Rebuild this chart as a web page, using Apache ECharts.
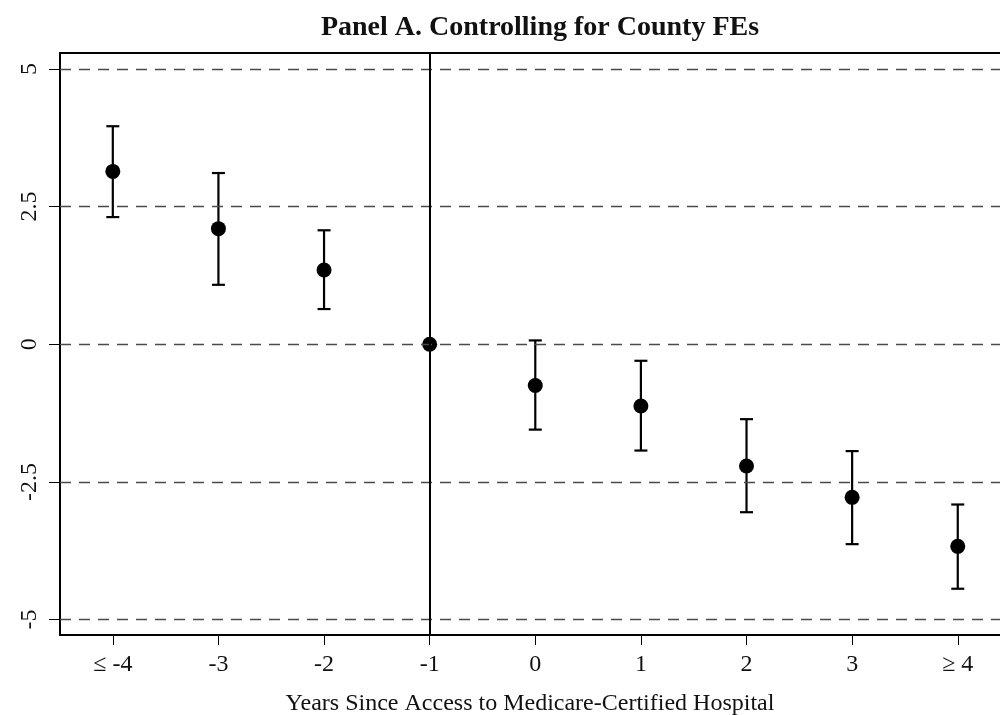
<!DOCTYPE html>
<html>
<head>
<meta charset="utf-8">
<script src="https://cdn.jsdelivr.net/npm/echarts@6/dist/echarts.min.js"></script>
<style>
  html, body { margin: 0; padding: 0; background: #fff; }
  #main { width: 1000px; height: 715px; }
</style>
</head>
<body>
<div id="main"></div>
<script>
// event-time categories
var categories = ['≤ -4', '-3', '-2', '-1', '0', '1', '2', '3', '≥ 4'];
// point estimates and 95% CI bounds
var estimates = [3.14, 2.10, 1.35, 0, -0.75, -1.12, -2.21, -2.78, -3.67];
var upper = [3.96, 3.11, 2.07, null, 0.07, -0.30, -1.36, -1.94, -2.91];
var lower = [2.31, 1.08, 0.64, null, -1.55, -1.93, -3.05, -3.63, -4.44];
var yTicks = [-5, -2.5, 0, 2.5, 5];
var refIndex = 3; // the omitted year (-1)

var font = 'Liberation Serif';
var chart = echarts.init(document.getElementById('main'));

var xIdx = categories.map(function (c, i) { return i; });
var points = estimates.map(function (v, i) { return [i, v]; });
var bars = [];
for (var i = 0; i < categories.length; i++) {
  if (upper[i] != null) bars.push([i, lower[i], upper[i]]);
}

var option = {
  animation: false,
  title: {
    text: 'Panel A. Controlling for County FEs',
    left: 535,
    top: 9,
    textAlign: 'center',
    textStyle: { fontFamily: font, fontWeight: 'bold', fontSize: 28, color: '#111' }
  },
  grid: { left: 60, right: 0, top: 53, bottom: 80, outerBoundsMode: 'none', containLabel: false },
  xAxis: [{
    type: 'value',
    min: -0.5,
    max: 8.4,
    axisLine: { show: true, onZero: false, lineStyle: { color: '#000', width: 2 } },
    axisTick: { show: true, customValues: xIdx, length: 10, lineStyle: { color: '#000', width: 1 } },
    axisLabel: {
      customValues: xIdx,
      margin: 18,
      formatter: function (v) { return categories[v]; },
      fontFamily: font, fontSize: 24, color: '#111'
    },
    splitLine: { show: false },
    name: 'Years Since Access to Medicare-Certified Hospital',
    nameLocation: 'middle',
    nameGap: 57,
    nameTextStyle: { fontFamily: font, fontSize: 24, color: '#111' }
  }, {
    type: 'value',
    position: 'top',
    min: -0.5,
    max: 8.4,
    axisLine: { show: true, onZero: false, lineStyle: { color: '#000', width: 2 } },
    axisTick: { show: false },
    axisLabel: { show: false },
    splitLine: { show: false }
  }],
  yAxis: {
    type: 'value',
    min: -5.28,
    max: 5.29,
    axisLine: { show: true, onZero: false, lineStyle: { color: '#000', width: 2 } },
    axisTick: { show: true, customValues: yTicks, length: 11, lineStyle: { color: '#000', width: 1 } },
    axisLabel: {
      customValues: yTicks,
      rotate: 90,
      margin: 18,
      fontFamily: font, fontSize: 24, color: '#111'
    },
    splitLine: { show: false }
  },
  series: [{
    type: 'custom',
    renderItem: function (params, api) {
      var x = api.value(0);
      var lo = api.coord([x, api.value(1)]);
      var hi = api.coord([x, api.value(2)]);
      var w = 6.5;
      var st = { stroke: '#000', lineWidth: 2.2 };
      return {
        type: 'group',
        children: [
          { type: 'line', shape: { x1: lo[0], y1: lo[1], x2: hi[0], y2: hi[1] }, style: st },
          { type: 'line', shape: { x1: lo[0] - w, y1: lo[1], x2: lo[0] + w, y2: lo[1] }, style: st },
          { type: 'line', shape: { x1: hi[0] - w, y1: hi[1], x2: hi[0] + w, y2: hi[1] }, style: st }
        ]
      };
    },
    encode: { x: 0, y: [1, 2] },
    data: bars,
    z: 3,
    markLine: {
      silent: true,
      symbol: 'none',
      label: { show: false },
      lineStyle: { color: '#4a4a4a', width: 1.4, type: [11, 8] },
      data: yTicks.map(function (v) { return { yAxis: v }; })
    }
  }, {
    type: 'scatter',
    data: points,
    symbol: 'circle',
    symbolSize: 15,
    itemStyle: { color: '#000', opacity: 1 },
    z: 4,
    markLine: {
      silent: true,
      symbol: 'none',
      label: { show: false },
      lineStyle: { color: '#000', width: 2, type: 'solid' },
      data: [{ xAxis: refIndex }]
    }
  }]
};

chart.setOption(option);
</script>
</body>
</html>
